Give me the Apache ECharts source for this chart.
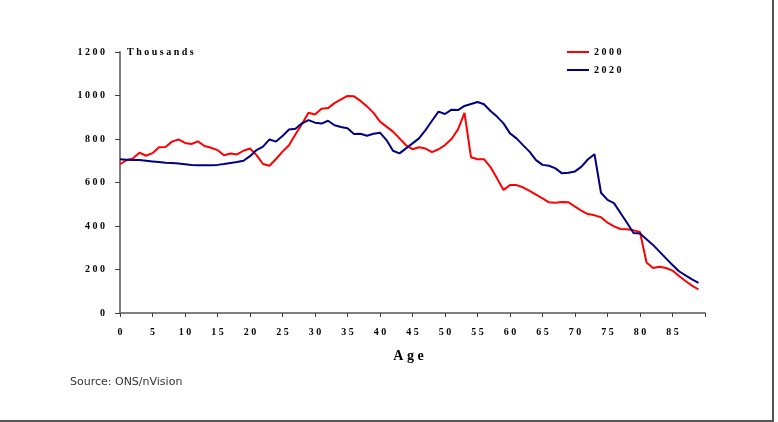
<!DOCTYPE html>
<html>
<head>
<meta charset="utf-8">
<script src="https://cdn.jsdelivr.net/npm/echarts@6/dist/echarts.min.js"></script>
<style>
  html, body { margin: 0; padding: 0; background: #fff; }
  #chart { width: 778px; height: 422px; }
</style>
</head>
<body>
<div id="chart"></div>
<script>
// population by single year of age, thousands
var ages = [];
for (var a = 0; a < 90; a++) ages.push(a);

var pop2000 = [684, 703, 711, 737, 723, 735, 762, 763, 788, 798,
               782, 777, 789, 768, 760, 749, 725, 733, 729, 746,
               756, 726, 685, 677, 708, 742, 771, 822, 869, 921,
               913, 939, 942, 965, 982, 998, 996, 975, 950, 920,
               880, 857, 834, 803, 771, 753, 762, 756, 740, 753,
               772, 800, 844, 920, 716, 707, 707, 671, 619, 566,
               588, 588, 578, 561, 544, 527, 509, 507, 510, 509,
               489, 470, 455, 449, 440, 415, 398, 386, 385, 380,
               372, 232, 207, 213, 207, 195, 170, 147, 126, 108];

var pop2020 = [707, 705, 703, 703, 700, 697, 694, 691, 690, 687,
               684, 681, 679, 679, 679, 681, 685, 690, 694, 700,
               721, 749, 765, 798, 788, 814, 844, 847, 872, 887,
               875, 871, 884, 863, 855, 849, 823, 824, 815, 824,
               829, 795, 746, 734, 757, 780, 803, 841, 884, 926,
               915, 935, 933, 952, 961, 970, 960, 929, 903, 872,
               826, 803, 772, 742, 703, 681, 677, 665, 642, 645,
               651, 673, 707, 730, 553, 520, 505, 460, 415, 368,
               365, 339, 313, 282, 251, 221, 192, 173, 155, 139];

var seriesNames = ['2000', '2020'];

function spaced(s) {
	return String(s).split('').join(' ');
}
function pairs(vals) {
	return ages.map(function (age, i) { return [age, vals[i]]; });
}

var serif = 'Liberation Serif, Times New Roman, serif';
var chart = echarts.init(document.getElementById('chart'));

var option = {
	backgroundColor: '#fff',
	animation: false,
	grid: {
		left: 120,
		right: 73,
		top: 52,
		bottom: 109
	},
	legend: {
		orient: 'vertical',
		left: 562,
		top: 42,
		icon: 'rect',
		itemWidth: 22,
		itemHeight: 2,
		itemGap: 8,
		data: seriesNames,
		formatter: function (name) { return spaced(name); },
		textStyle: {
			fontFamily: serif,
			fontWeight: 'bold',
			fontSize: 10,
			color: '#000'
		}
	},
	xAxis: {
		type: 'value',
		min: 0,
		max: 90,
		interval: 5,
		name: spaced('Age'),
		nameLocation: 'middle',
		nameGap: 36,
		nameTextStyle: {
			fontFamily: serif,
			fontWeight: 'bold',
			fontSize: 14,
			color: '#000',
			padding: [0, 8, 0, 0]
		},
		axisLine: { lineStyle: { color: '#808080', width: 2 } },
		axisTick: { length: 4, lineStyle: { color: '#404040', width: 1 } },
		axisLabel: {
			margin: 14,
			fontFamily: serif,
			fontWeight: 'bold',
			fontSize: 10,
			color: '#000',
			formatter: function (v) { return v >= 90 ? '' : spaced(v); }
		},
		splitLine: { show: false }
	},
	yAxis: {
		type: 'value',
		min: 0,
		max: 1200,
		interval: 200,
		name: spaced('Thousands'),
		nameLocation: 'end',
		nameGap: 0,
		nameTextStyle: {
			align: 'left',
			verticalAlign: 'middle',
			padding: [0, 0, 0, 7],
			fontFamily: serif,
			fontWeight: 'bold',
			fontSize: 10,
			color: '#000'
		},
		axisLine: { show: true, lineStyle: { color: '#808080', width: 2 } },
		axisTick: { show: true, length: 5, lineStyle: { color: '#404040', width: 1 } },
		axisLabel: {
			margin: 15,
			fontFamily: serif,
			fontWeight: 'bold',
			fontSize: 10,
			color: '#000',
			formatter: function (v) { return spaced(v); }
		},
		splitLine: { show: false }
	},
	series: [
		{
			name: seriesNames[0],
			type: 'line',
			symbol: 'none',
			data: pairs(pop2000),
			lineStyle: { color: '#ff0000', width: 2 },
			itemStyle: { color: '#ff0000' }
		},
		{
			name: seriesNames[1],
			type: 'line',
			symbol: 'none',
			data: pairs(pop2020),
			lineStyle: { color: '#000080', width: 2 },
			itemStyle: { color: '#000080' }
		}
	],
	graphic: [
		{
			type: 'text',
			left: 70,
			top: 377,
			style: {
				text: 'Source: ONS/nVision',
				fontFamily: 'DejaVu Sans, sans-serif',
				fontSize: 11,
				fill: '#333'
			}
		},
		{
			type: 'rect',
			shape: { x: -2, y: -2, width: 775, height: 423 },
			style: { fill: 'none', stroke: '#555', lineWidth: 2 },
			silent: true
		}
	]
};

chart.setOption(option);
</script>
</body>
</html>
